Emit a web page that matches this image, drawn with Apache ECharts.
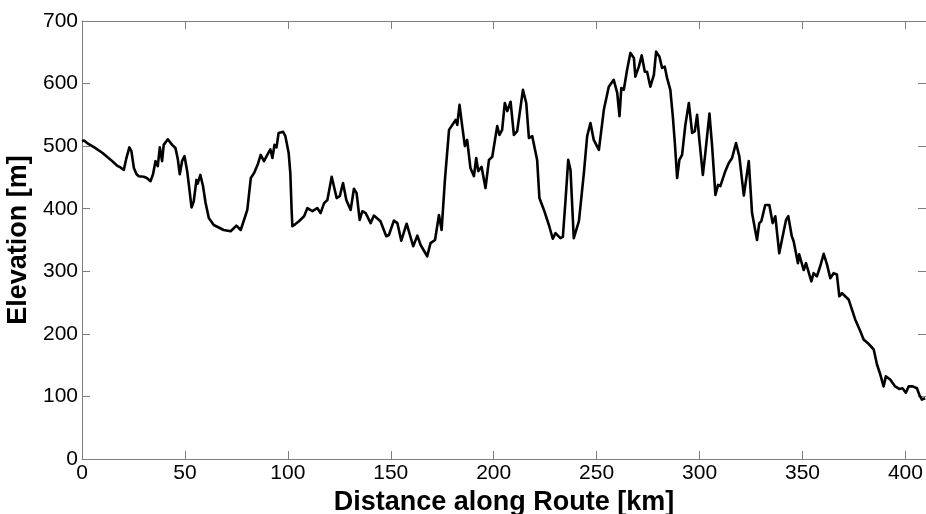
<!DOCTYPE html>
<html>
<head>
<meta charset="utf-8">
<title>Elevation profile</title>
<script src="https://cdn.jsdelivr.net/npm/echarts@6/dist/echarts.min.js"></script>
<style>
  html, body { margin: 0; padding: 0; background: #fff; }
  #chart { width: 926px; height: 514px; }
</style>
</head>
<body>
<div id="chart"></div>
<script>
// Distance along the route (km) and the elevation at that point (m)
const distanceKm = [
  0, 1, 2.5, 6, 10, 14, 17, 18.7, 19.5, 20.3, 21.5, 23, 24, 25.2, 26.5, 27.6, 30, 31.5, 33.3, 34.5,
  35.7, 36.8, 37.8, 38.9, 39.7, 41.7, 43.8, 45.4, 46.5, 47.5, 48.6, 49.8, 51.1, 52.2, 53.2, 54.3, 55.6, 56.2, 57.5, 58.8,
  60, 61.6, 64, 68.8, 72.2, 75, 77.1, 78.7, 80.3, 82, 83.6, 85.5, 86.8, 88.4, 90, 91.5, 92.5, 93.5, 94.5, 95.5,
  97.7, 98.8, 100.4, 101.2, 101.8, 102.2, 103.5, 105.4, 107.9, 109.5, 111.9, 114.3, 115.9, 117.6, 119.2, 121.3, 123.7, 125.2, 126.8, 128.4,
  130.5, 132.1, 133.4, 134.9, 136.2, 137.8, 140.2, 141.8, 145, 147.8, 149.1, 151.5, 153.2, 155.1, 157.7, 160.9, 162.9, 164.5, 167.7, 169.3,
  171.5, 173.4, 174.7, 176.3, 178.3, 179.9, 181.5, 182.3, 183.4, 184.7, 186, 187.1, 188.7, 190.4, 191.5, 192.5, 194.1, 196, 197.7, 199.3,
  201.7, 202.8, 204.1, 205.4, 206.6, 208.2, 209.8, 211.4, 214.2, 215.8, 217.1, 218.7, 221.1, 222.2, 224.4, 226.8, 228.7, 230, 232.4, 233.6,
  234.9, 236.2, 237.3, 238.9, 241.4, 243.8, 245.4, 247, 248.6, 251.1, 253.5, 255.9, 258.3, 260, 261.1, 262, 263.2, 264.8, 266.4, 268.1,
  268.8, 270.5, 271.9, 273.4, 274.5, 276.1, 277.8, 278.9, 280.5, 281.8, 283.1, 284.2, 285.8, 287, 288, 289.1, 290.2, 291.5, 293.1, 294.8,
  296.4, 297.7, 298.8, 299.9, 301.6, 302.8, 304.8, 306.1, 307.7, 309, 310.1, 312.5, 314.2, 315.8, 317.7, 319.3, 321.5, 323.9, 325.5, 327.9,
  329, 330, 331.9, 333.9, 335.5, 336.8, 338.7, 340, 342, 343.1, 344.8, 345.7, 347.8, 348.4, 350.6, 351.7, 354.3, 355.4, 357, 358.6,
  360.3, 361.9, 363.5, 365.1, 366.7, 367.9, 369.2, 372.4, 375.6, 378.1, 379.7, 381.8, 384.6, 386.2, 387.8, 389.4, 390.5, 392.6, 395, 397,
  398.6, 400.2, 401.6, 403.5, 405.6, 406.7, 408, 409.6
];
const elevationM = [
  508, 509, 505, 498, 489, 478, 469, 466, 468, 462, 480, 498, 492, 465, 455, 452, 451, 449, 444, 455,
  476, 468, 498, 476, 502, 511, 502, 497, 480, 455, 476, 484, 460, 430, 402, 412, 446, 440, 454, 436,
  410, 385, 374, 366, 364, 373, 366, 382, 398, 449, 457, 472, 486, 476, 486, 495, 481, 502, 498, 521,
  523, 516, 489, 457, 400, 372, 375, 380, 388, 401, 396, 401, 393, 409, 414, 451, 417, 420, 441, 414,
  398, 432, 425, 382, 396, 393, 377, 389, 380, 356, 358, 381, 377, 349, 376, 340, 357, 342, 324, 345,
  350, 390, 366, 446, 526, 534, 542, 534, 566, 532, 500, 510, 465, 452, 481, 460, 467, 433, 478, 483,
  532, 518, 526, 569, 556, 571, 518, 524, 590, 569, 513, 516, 478, 417, 398, 374, 352, 361, 353, 355,
  414, 478, 462, 353, 380, 457, 516, 537, 510, 494, 558, 595, 606, 585, 548, 593, 590, 622, 649, 641,
  611, 627, 645, 619, 619, 595, 614, 651, 643, 625, 627, 609, 590, 548, 505, 449, 478, 486, 534, 569,
  521, 524, 550, 510, 454, 489, 552, 500, 422, 438, 436, 460, 473, 481, 505, 484, 421, 476, 393, 350,
  377, 380, 406, 406, 377, 388, 329, 350, 382, 388, 356, 348, 313, 327, 302, 313, 284, 297, 292, 308,
  328, 311, 289, 297, 295, 260, 265, 255, 223, 204, 191, 185, 175, 151, 135, 116, 132, 127, 116, 112,
  113, 106, 116, 116, 113, 103, 95, 97
];

// Axis ranges and tick spacing
const xRange = [0, 410];
const xStep = 50;
const yRange = [0, 700];
const yStep = 100;

const profile = distanceKm.map((d, i) => [d, elevationM[i]]);

const fontFamily = "'Liberation Sans', Arial, sans-serif";
const frameColor = '#7f7f7f';

function frameAxis(extra) {
  return Object.assign({
    type: 'value',
    axisLine: { show: true, onZero: false, lineStyle: { color: frameColor, width: 1 } },
    axisTick: { show: true, inside: true, length: 8, lineStyle: { color: frameColor, width: 1 } },
    splitLine: { show: false },
    axisLabel: { show: false }
  }, extra);
}

const chart = echarts.init(document.getElementById('chart'), null, { renderer: 'canvas' });

chart.setOption({
  animation: false,
  backgroundColor: '#ffffff',
  grid: { left: 82, right: 0, top: 21, bottom: 55, containLabel: false, outerBoundsMode: 'none' },
  xAxis: [
    frameAxis({
      position: 'bottom',
      min: xRange[0], max: xRange[1], interval: xStep,
      axisLabel: { show: true, color: '#000', fontSize: 21, fontFamily: fontFamily, margin: 4 },
      name: 'Distance along Route [km]',
      nameLocation: 'middle',
      nameGap: 28,
      nameTextStyle: { color: '#000', fontSize: 27, fontWeight: 'bold', fontFamily: fontFamily }
    }),
    frameAxis({ position: 'top', min: xRange[0], max: xRange[1], interval: xStep })
  ],
  yAxis: [
    frameAxis({
      position: 'left',
      min: yRange[0], max: yRange[1], interval: yStep,
      axisLabel: { show: true, color: '#000', fontSize: 21, fontFamily: fontFamily, margin: 4 },
      name: 'Elevation [m]',
      nameLocation: 'middle',
      nameGap: 42,
      nameTextStyle: { color: '#000', fontSize: 27, fontWeight: 'bold', fontFamily: fontFamily }
    }),
    frameAxis({ position: 'right', min: yRange[0], max: yRange[1], interval: yStep })
  ],
  series: [{
    type: 'line',
    xAxisIndex: 0,
    yAxisIndex: 0,
    data: profile,
    showSymbol: false,
    smooth: false,
    lineStyle: { color: '#000', width: 2.6, join: 'round' }
  }]
});
</script>
</body>
</html>
